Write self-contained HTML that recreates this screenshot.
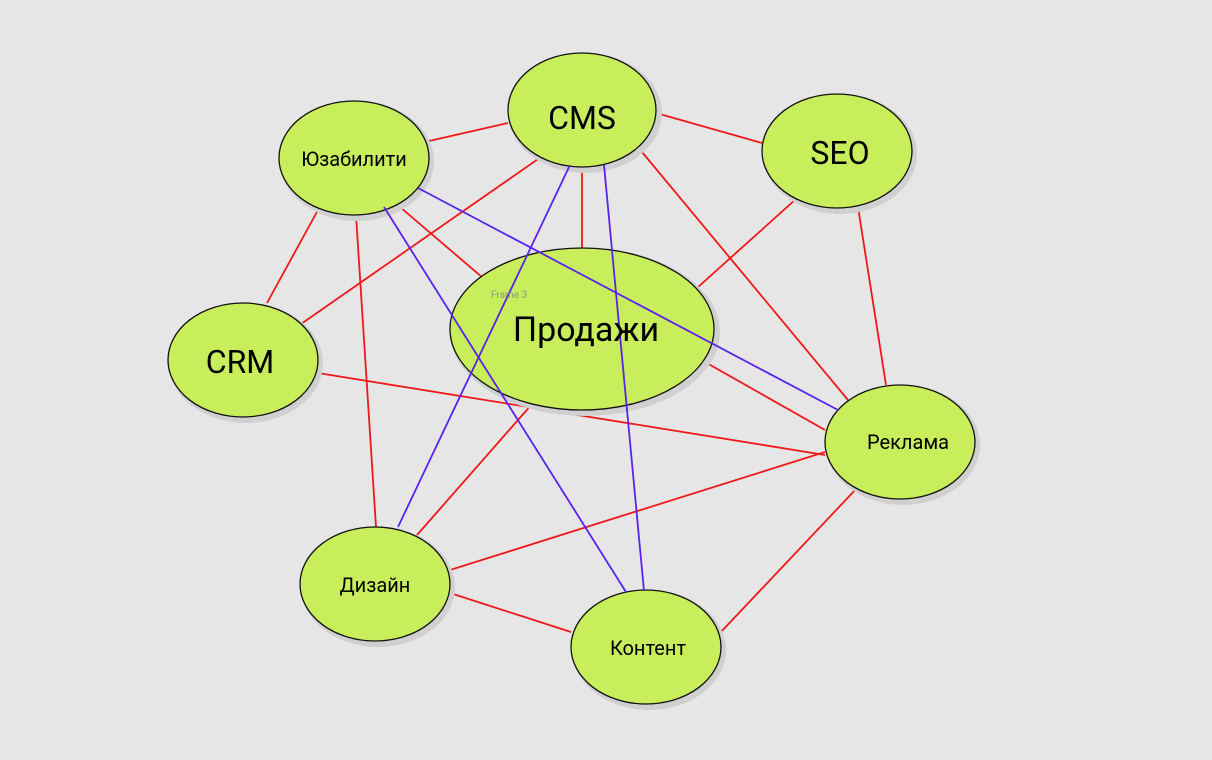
<!DOCTYPE html>
<html><head><meta charset="utf-8"><style>
html,body{margin:0;padding:0;background:#e6e6e6;}
svg{display:block;}
text{font-family:"Roboto","Liberation Sans","DejaVu Sans",sans-serif;fill:#000;}
</style></head><body>
<svg width="1212" height="760" viewBox="0 0 1212 760" xmlns="http://www.w3.org/2000/svg">
<rect width="1212" height="760" fill="#e6e6e6"/>
<g stroke="#f01818" stroke-width="1.8">
<line x1="429" y1="141" x2="508" y2="123"/>
<line x1="656" y1="113" x2="762" y2="143"/>
<line x1="318" y1="210" x2="267" y2="303"/>
<line x1="541" y1="157" x2="301" y2="324"/>
<line x1="582" y1="167" x2="582" y2="248"/>
<line x1="400" y1="207" x2="483" y2="278"/>
<line x1="796" y1="199" x2="697" y2="288"/>
<line x1="637" y1="146" x2="848" y2="400"/>
<line x1="858" y1="207" x2="886" y2="385"/>
<line x1="705" y1="362" x2="825" y2="430"/>
<line x1="318" y1="373" x2="825" y2="455"/>
<line x1="356" y1="215" x2="376" y2="527"/>
<line x1="532" y1="404" x2="417" y2="535"/>
<line x1="450" y1="570" x2="825" y2="452"/>
<line x1="450" y1="593" x2="571" y2="632"/>
<line x1="857" y1="488" x2="720" y2="633"/>
</g>
<g fill="#c9ee5b" stroke="#111" stroke-width="1.3">
<g><ellipse cx="585" cy="113" rx="77" ry="60" fill="#d0d0d0" stroke="none"/><ellipse cx="582" cy="110" rx="74" ry="57"/></g>
<g><ellipse cx="357" cy="161" rx="77" ry="60" fill="#d0d0d0" stroke="none"/><ellipse cx="354" cy="158" rx="75" ry="57"/></g>
<g><ellipse cx="840" cy="154" rx="77" ry="60" fill="#d0d0d0" stroke="none"/><ellipse cx="837" cy="151" rx="75" ry="57"/></g>
<g><ellipse cx="585" cy="332" rx="135" ry="84" fill="#d0d0d0" stroke="none"/><ellipse cx="582" cy="329" rx="132" ry="81"/></g>
<g><ellipse cx="246" cy="363" rx="77" ry="60" fill="#d0d0d0" stroke="none"/><ellipse cx="243" cy="360" rx="75" ry="57"/></g>
<g><ellipse cx="903" cy="445" rx="77" ry="60" fill="#d0d0d0" stroke="none"/><ellipse cx="900" cy="442" rx="75" ry="57"/></g>
<g><ellipse cx="378" cy="587" rx="77" ry="60" fill="#d0d0d0" stroke="none"/><ellipse cx="375" cy="584" rx="75" ry="57"/></g>
<g><ellipse cx="649" cy="650" rx="77" ry="60" fill="#d0d0d0" stroke="none"/><ellipse cx="646" cy="647" rx="75" ry="57"/></g>
</g>
<g stroke="#5a22ee" stroke-width="1.8">
<line x1="418" y1="188" x2="838" y2="410"/>
<line x1="570" y1="165" x2="398" y2="527"/>
<line x1="604" y1="165" x2="644" y2="591"/>
<line x1="384" y1="207" x2="626" y2="592"/>
</g>
<text x="582" y="129" font-size="32" text-anchor="middle">CMS</text>
<text x="354" y="166" font-size="20" text-anchor="middle">Юзабилити</text>
<text x="840" y="164" font-size="32" text-anchor="middle">SEO</text>
<text x="586" y="341" font-size="34" text-anchor="middle">Продажи</text>
<text x="491" y="298" font-size="10" fill="#8a9a8a" style="fill:#8a9a80">Frame 3</text>
<text x="240" y="373" font-size="32" text-anchor="middle">CRM</text>
<text x="908" y="449" font-size="20" text-anchor="middle">Реклама</text>
<text x="375" y="592" font-size="20" text-anchor="middle">Дизайн</text>
<text x="648" y="655" font-size="20" text-anchor="middle">Контент</text>
</svg>
</body></html>
